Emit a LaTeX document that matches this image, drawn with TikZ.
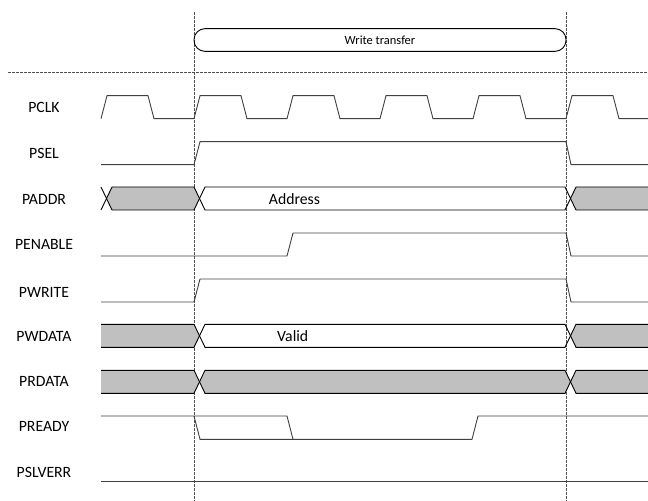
\documentclass[tikz,border=0pt]{standalone}
\usepackage{fontspec}
\setmainfont{Carlito}
\usetikzlibrary{positioning}
\definecolor{wline}{HTML}{404040}
\definecolor{wgrey}{HTML}{C0C0C0}
\definecolor{wguide}{HTML}{505050}
\tikzset{
  every picture/.style={line join=miter},
  sig/.style={draw=wline, line width=0.9bp},
  bus/.style={draw=black, line width=0.9bp},
  busfill/.style={fill=wgrey},
  guide/.style={draw=wguide, line width=0.7bp, dash pattern=on 2.6bp off 1.4bp},
  lbl/.style={font=\fontsize{15.8}{18}\selectfont, inner sep=0pt},
  phase/.style={draw=black, line width=0.9bp, rounded corners=11bp, inner sep=0pt,
    font=\fontsize{12.5}{14}\selectfont},
}

\begin{document}
\begin{tikzpicture}[x=1bp, y=-1bp]
  \useasboundingbox (0,0) rectangle (648,501);
  \clip (0,0) rectangle (648,501);

  % guides and transfer phase
  \draw[guide] (8,72.5) -- (648,72.5);
  \draw[guide] (194,12) -- (194,501);
  \draw[guide] (566,12) -- (566,501);
  \node[phase, minimum width=372bp, minimum height=22.7bp] (wt) at (380,40) {Write transfer};

  % signal names
  \foreach \n/\y in {PCLK/107.5, PSEL/153, PADDR/199, PENABLE/244, PWRITE/292.7,
                     PWDATA/336, PRDATA/381.7, PREADY/426.7, PSLVERR/472.7}
    \node[lbl] (\n) at (44,\y) {\n};

  % PCLK
  \foreach \t in {101,194,287,380,473,566}
    \draw[sig] (\t,118.7) -- ++(6,-23) -- ++(41,0) -- ++(6,23) -- ++(40,0);

  % PSEL, PENABLE, PWRITE
  \draw[sig] (101,164.7) -- (194,164.7) -- (200,141.7) -- (566,141.7) -- (571,164.7) -- (648,164.7);
  \draw[sig] (101,256) -- (287,256) -- (293,233) -- (566,233) -- (571,256) -- (648,256);
  \draw[sig] (101,302) -- (194,302) -- (200,279) -- (566,279) -- (571,302) -- (648,302);

  % PADDR
  \fill[busfill] (106.5,198.5) -- (112,187) -- (194,187) -- (199.5,198.5) -- (194,210) -- (112,210) -- cycle;
  \fill[busfill] (570.5,198.5) -- (576,187) -- (648,187) -- (648,210) -- (576,210) -- cycle;
  \draw[bus] (101,187) -- (112,210) -- (194,210) -- (205,187) -- (565,187) -- (576,210) -- (648,210);
  \draw[bus] (101,210) -- (112,187) -- (194,187) -- (205,210) -- (565,210) -- (576,187) -- (648,187);
  \node[lbl] (addr) at (294.5,199) {Address};

  % PWDATA
  \fill[busfill] (101,324.3) -- (194,324.3) -- (199.5,335.8) -- (194,347.3) -- (101,347.3) -- cycle;
  \fill[busfill] (570.5,335.8) -- (576,324.3) -- (648,324.3) -- (648,347.3) -- (576,347.3) -- cycle;
  \draw[bus] (101,324.3) -- (194,324.3) -- (205,347.3) -- (565,347.3) -- (576,324.3) -- (648,324.3);
  \draw[bus] (101,347.3) -- (194,347.3) -- (205,324.3) -- (565,324.3) -- (576,347.3) -- (648,347.3);
  \node[lbl] (wdata) at (292.7,336) {Valid};

  % PRDATA
  \fill[busfill] (101,370.3) -- (194,370.3) -- (199.5,381.8) -- (194,393.3) -- (101,393.3) -- cycle;
  \fill[busfill] (199.5,381.8) -- (205,370.3) -- (565,370.3) -- (570.5,381.8) -- (565,393.3) -- (205,393.3) -- cycle;
  \fill[busfill] (570.5,381.8) -- (576,370.3) -- (648,370.3) -- (648,393.3) -- (576,393.3) -- cycle;
  \draw[bus] (101,370.3) -- (194,370.3) -- (205,393.3) -- (565,393.3) -- (576,370.3) -- (648,370.3);
  \draw[bus] (101,393.3) -- (194,393.3) -- (205,370.3) -- (565,370.3) -- (576,393.3) -- (648,393.3);

  % PREADY, PSLVERR
  \draw[sig] (101,416) -- (287,416) -- (293,439.3) -- (472,439.3) -- (478,416) -- (648,416);
  \draw[sig] (194,416) -- (200,439.3) -- (293,439.3);
  \draw[sig] (101,481.5) -- (648,481.5);
\end{tikzpicture}
\end{document}
